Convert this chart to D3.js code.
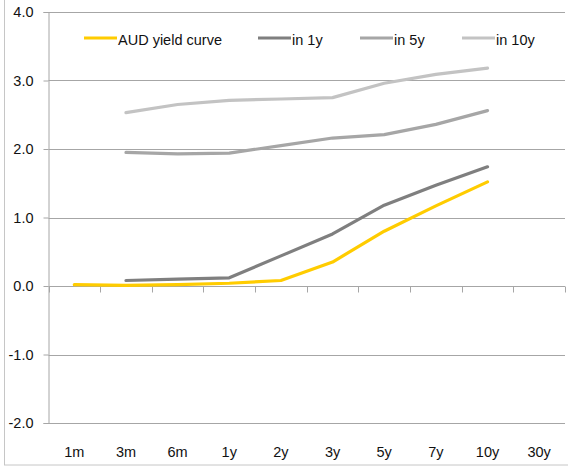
<!DOCTYPE html>
<html>
<head>
<meta charset="utf-8">
<script src="https://cdn.jsdelivr.net/npm/d3@7"></script>
<style>
  html, body { margin: 0; padding: 0; background: #fff; }
  svg { display: block; }
</style>
</head>
<body>
<svg id="chart" width="568" height="466"></svg>
<script>
// Tenor buckets along the curve
const tenors = ["1m", "3m", "6m", "1y", "2y", "3y", "5y", "7y", "10y", "30y"];

// Yields (%) per tenor; null where no point is plotted
const audCurve = [0.02, 0.01, 0.02, 0.04, 0.08, 0.35, 0.80, 1.17, 1.52, null];
const in1y     = [null, 0.08, 0.10, 0.12, 0.44, 0.76, 1.18, 1.47, 1.74, null];
const in5y     = [null, 1.95, 1.93, 1.94, 2.05, 2.16, 2.21, 2.36, 2.56, null];
const in10y    = [null, 2.53, 2.65, 2.71, 2.73, 2.75, 2.96, 3.09, 3.18, null];

const seriesNames = ["AUD yield curve", "in 1y", "in 5y", "in 10y"];
const seriesColors = ["#FFCC00", "#7F7F7F", "#A6A6A6", "#C3C3C3"];
const seriesValues = [audCurve, in1y, in5y, in10y];

const yTicks = [-2, -1, 0, 1, 2, 3, 4];

const svg = d3.select("#chart");
const plot = { left: 48.5, right: 565, top: 12, bottom: 423 };

// Outer chart frame
svg.append("rect")
  .attr("x", 4.5).attr("y", -2)
  .attr("width", 570).attr("height", 467)
  .attr("fill", "none").attr("stroke", "#c6c6c6").attr("stroke-width", 1);

const x = d3.scaleBand().domain(tenors).range([plot.left, plot.right]).padding(0);
const y = d3.scaleLinear().domain([-2, 4]).range([plot.bottom, plot.top]);

const gridColor = "#a6a6a6";
const labelFont = "'Liberation Sans', Arial, sans-serif";
// one decimal, plain hyphen for negatives
const fmt = d => d.toFixed(1);

// Horizontal gridlines
svg.append("g")
  .selectAll("line")
  .data(yTicks)
  .join("line")
  .attr("x1", plot.left).attr("x2", plot.right)
  .attr("y1", d => Math.round(y(d)) + 0.5).attr("y2", d => Math.round(y(d)) + 0.5)
  .attr("stroke", gridColor).attr("stroke-width", 1);

// Y axis with outward ticks
const yAxis = d3.axisLeft(y).tickValues(yTicks).tickFormat(fmt).tickSize(5).tickPadding(10);
const yG = svg.append("g").attr("transform", `translate(${plot.left},0)`).call(yAxis);
yG.select(".domain").attr("stroke", gridColor);
yG.selectAll(".tick line").attr("stroke", gridColor);
yG.selectAll(".tick text")
  .attr("font-family", labelFont).attr("font-size", 14.5).attr("fill", "#111");

// X axis at zero: ticks at band boundaries, labels along the bottom
const boundaries = tenors.map(t => x(t)).concat([plot.right]);
const y0 = Math.round(y(0)) + 0.5;
svg.append("g")
  .selectAll("line")
  .data(boundaries)
  .join("line")
  .attr("x1", d => Math.round(d) + 0.5).attr("x2", d => Math.round(d) + 0.5)
  .attr("y1", y0).attr("y2", y0 + 6)
  .attr("stroke", gridColor).attr("stroke-width", 1);

svg.append("g")
  .selectAll("text")
  .data(tenors)
  .join("text")
  .attr("x", d => x(d) + x.bandwidth() / 2)
  .attr("y", 457)
  .attr("text-anchor", "middle")
  .attr("font-family", labelFont).attr("font-size", 14.5).attr("fill", "#111")
  .text(d => d);

// Series lines
const line = d3.line()
  .defined(d => d.v != null)
  .x(d => x(d.t) + x.bandwidth() / 2)
  .y(d => y(d.v));

// draw back-to-front so the spot curve sits on top
[3, 2, 1, 0].forEach(i => {
  const pts = tenors.map((t, j) => ({ t, v: seriesValues[i][j] }));
  svg.append("path")
    .datum(pts)
    .attr("d", line)
    .attr("fill", "none")
    .attr("stroke", seriesColors[i])
    .attr("stroke-width", 3.2)
    .attr("stroke-linejoin", "round")
    .attr("stroke-linecap", "round");
});

// Legend
const legendX = [84, 258, 360, 462];
const legend = svg.append("g");
seriesNames.forEach((name, i) => {
  const g = legend.append("g").attr("transform", `translate(${legendX[i]},38)`);
  g.append("line")
    .attr("x1", 0).attr("x2", 33).attr("y1", 0).attr("y2", 0)
    .attr("stroke", seriesColors[i]).attr("stroke-width", 3);
  g.append("text")
    .attr("x", 34).attr("y", 6.5)
    .attr("font-family", labelFont)
    .attr("font-size", 14.5).attr("fill", "#111")
    .text(name);
});
</script>
</body>
</html>
